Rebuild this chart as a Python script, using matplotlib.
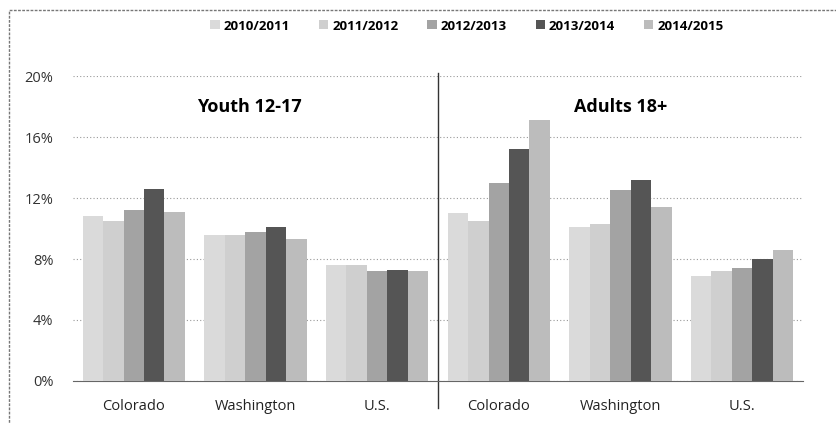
import numpy as np
import matplotlib.pyplot as plt
from matplotlib.patches import Rectangle
from matplotlib.lines import Line2D

# data (percent)
places = ["Colorado", "Washington", "U.S.", "Colorado", "Washington", "U.S."]
years = ["2010/2011", "2011/2012", "2012/2013", "2013/2014", "2014/2015"]
y1011 = [10.8, 9.6, 7.6, 11.0, 10.1, 6.9]
y1112 = [10.5, 9.6, 7.6, 10.5, 10.3, 7.2]
y1213 = [11.2, 9.8, 7.2, 13.0, 12.5, 7.4]
y1314 = [12.6, 10.1, 7.3, 15.2, 13.2, 8.0]
y1415 = [11.1, 9.3, 7.2, 17.1, 11.4, 8.6]
panels = ["Youth 12-17", "Adults 18+"]

series = [y1011, y1112, y1213, y1314, y1415]
colors = ["#dadada", "#cfcfcf", "#a3a3a3", "#555555", "#bcbcbc"]

plt.rcParams['font.family'] = ['Open Sans', 'DejaVu Sans']

fig = plt.figure(figsize=(8.36, 4.23), dpi=100)
ax = fig.add_axes([0.0873, 0.0993, 0.8732, 0.7210])

x = np.arange(len(places))
w = 0.168
for i, (vals, c) in enumerate(zip(series, colors)):
    ax.bar(x + (i - 2) * w, vals, w, color=c, label=years[i], zorder=3)

ax.set_xlim(-0.5, 5.5)
ax.set_ylim(0, 20)
ax.set_yticks([0, 4, 8, 12, 16, 20])
ax.set_yticklabels([f"{t}%" for t in [0, 4, 8, 12, 16, 20]], fontsize=10.5, color="#333333")
ax.set_xticks(x)
ax.set_xticklabels(places, fontsize=10.5, color="#222222")
ax.tick_params(axis='x', length=0, pad=13)
ax.tick_params(axis='y', length=0, pad=14)
ax.grid(axis='y', linestyle=(0, (1, 2)), color="#999999", lw=0.8, zorder=0)
for s in ["top", "right", "left"]:
    ax.spines[s].set_visible(False)
ax.spines["bottom"].set_color("#666666")
ax.spines["bottom"].set_linestyle((0, (1, 1)))

# divider between the two panels
ax.add_line(Line2D([2.5, 2.5], [-1.8, 20.2], color="#333333", lw=1, clip_on=False))

ax.text(0.95, 18.0, panels[0], ha="center", va="center", fontsize=13, fontweight="bold")
ax.text(4.0, 18.0, panels[1], ha="center", va="center", fontsize=13, fontweight="bold")

leg = fig.legend(loc="center", bbox_to_anchor=(467 / 836, 1 - 26 / 423), ncol=5,
                 frameon=False, handlelength=0.7, handleheight=0.7,
                 handletextpad=0.3, columnspacing=2.2, prop={'weight': 'bold', 'size': 9.5})

# outer frame
fig.patches.append(Rectangle((9 / 836, -0.1), 1.0, 1 - 10 / 423 + 0.1, transform=fig.transFigure,
                             fill=False, edgecolor="#777777", lw=1, linestyle=(0, (2, 1))))

fig.savefig("out.png", dpi=100)
